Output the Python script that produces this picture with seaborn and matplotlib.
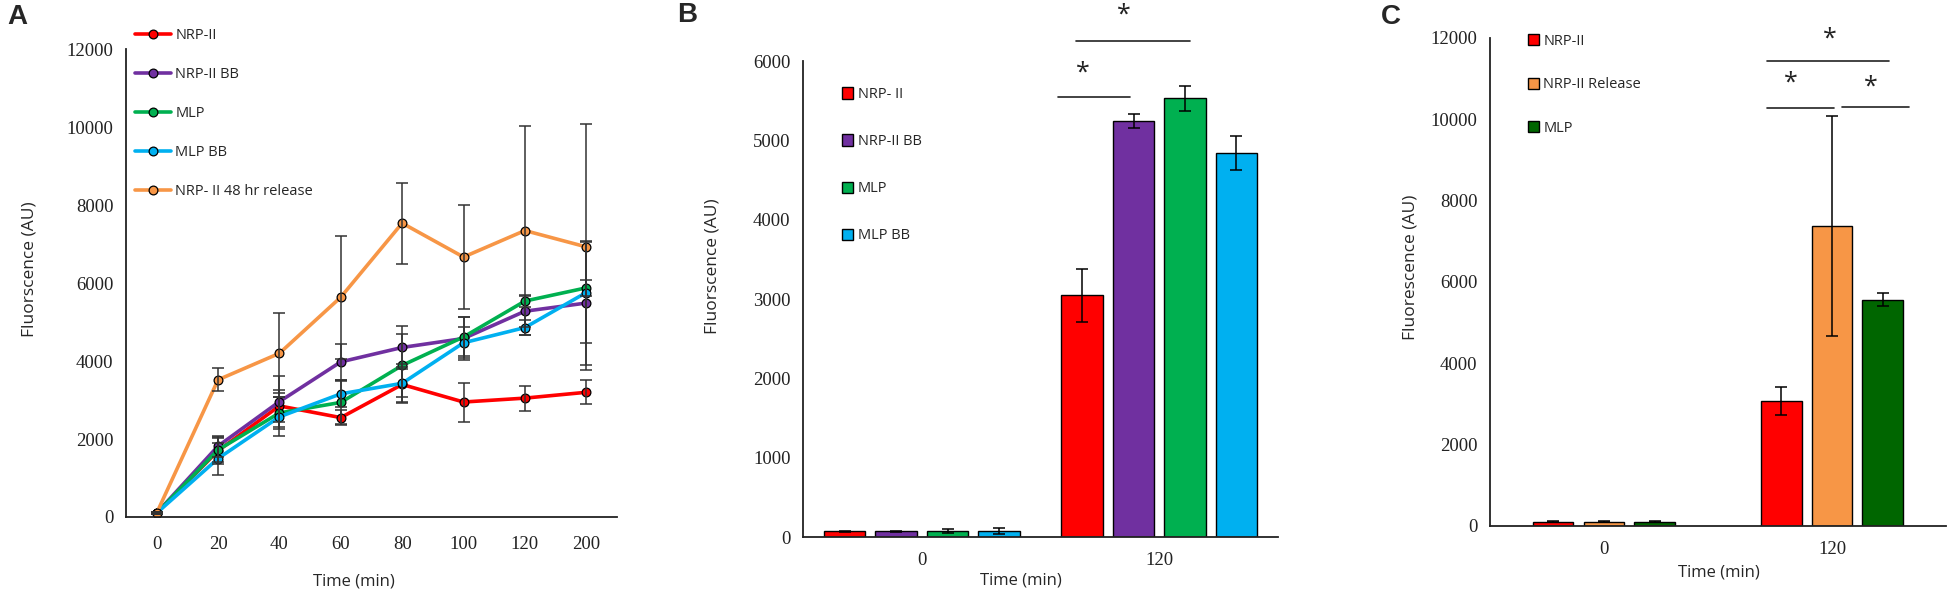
import numpy as np
import pandas as pd
import seaborn as sns
import matplotlib.pyplot as plt

sns.set_theme(style="white")
plt.rcParams['font.family'] = ['Open Sans', 'DejaVu Sans']

# panel A data
times_a = [0, 20, 40, 60, 80, 100, 120, 200]
groups_a = ["NRP-II", "NRP-II BB", "MLP", "MLP BB", "NRP- II 48 hr release"]
colors_a = ["#FF0000", "#7030A0", "#00B050", "#00B0F0", "#F79646"]
nrp = [100, 1700, 2850, 2550, 3400, 2950, 3050, 3200]
nrp_err = [30, 350, 400, 200, 450, 500, 320, 310]
nrp_bb = [100, 1820, 2960, 3980, 4350, 4580, 5280, 5490]
nrp_bb_err = [30, 270, 650, 470, 550, 550, 400, 1600]
mlp = [100, 1720, 2670, 2940, 3890, 4620, 5540, 5880]
mlp_err = [30, 300, 400, 550, 800, 500, 150, 200]
mlp_bb = [100, 1500, 2570, 3160, 3430, 4470, 4860, 5760]
mlp_bb_err = [30, 410, 500, 350, 500, 400, 200, 1300]
release = [100, 3520, 4200, 5640, 7540, 6670, 7350, 6930]
release_err = [30, 300, 1030, 1580, 1040, 1330, 2680, 3150]

# panel B data
times_b = [0, 120]
groups_b = ["NRP- II", "NRP-II BB", "MLP", "MLP BB"]
colors_b = ["#FF0000", "#7030A0", "#00B050", "#00B0F0"]
vals_b = [[70, 3045], [70, 5245], [75, 5530], [75, 4840]]
errs_b = [[10, 330], [10, 90], [20, 160], [40, 210]]

# panel C data
times_c = [0, 120]
groups_c = ["NRP-II", "NRP-II Release", "MLP"]
colors_c = ["#FF0000", "#F79646", "#006600"]
vals_c = [[110, 3080], [110, 7380], [110, 5560]]
errs_c = [[15, 340], [15, 2700], [15, 160]]

series_a = [nrp, nrp_bb, mlp, mlp_bb, release]
errors_a = [nrp_err, nrp_bb_err, mlp_err, mlp_bb_err, release_err]

fig = plt.figure(figsize=(19.5, 5.92), dpi=100)
axA = fig.add_axes([0.0646, 0.1267, 0.2518, 0.790])
axB = fig.add_axes([0.4118, 0.0929, 0.2436, 0.804])
axC = fig.add_axes([0.764, 0.1115, 0.234, 0.8245])

tick_family = ['Liberation Serif', 'DejaVu Serif']


def style_axis(ax):
    for s in ["top", "right"]:
        ax.spines[s].set_visible(False)
    for s in ["left", "bottom"]:
        ax.spines[s].set_color("#222222")
        ax.spines[s].set_linewidth(1.3)
    ax.tick_params(axis="y", length=0, pad=9, labelcolor="#222222")
    ax.tick_params(axis="x", length=0, pad=11, labelcolor="#222222")
    for lab in ax.get_xticklabels() + ax.get_yticklabels():
        lab.set_fontfamily(tick_family)
        lab.set_fontsize(13.5)


# ---- A ----
rows = []
for g, vals in zip(groups_a, series_a):
    for t, v in zip(times_a, vals):
        rows.append({"time": t, "value": v, "group": g})
dfA = pd.DataFrame(rows)

sns.pointplot(data=dfA, x="time", y="value", hue="group", hue_order=groups_a,
              palette=colors_a, markers="o", linestyles="-", errorbar=None,
              ax=axA, linewidth=2.6, markersize=6.3, markeredgecolor="black",
              markeredgewidth=0.9)
lines = [l for l in axA.lines if len(l.get_xdata()) == len(times_a)]
for line, vals, err in zip(lines, series_a, errors_a):
    axA.errorbar(line.get_xdata(), vals, yerr=err, fmt="none", ecolor="#333333",
                 elinewidth=1.1, capsize=4, capthick=1.1, zorder=5)
axA.set_xlim(-0.5, len(times_a) - 0.5)
axA.set_ylim(0, 12000)
axA.set_yticks(range(0, 12001, 2000))
axA.set_xlabel("Time (min)", fontsize=12)
axA.set_ylabel("Fluorscence (AU)", fontsize=12.5)
axA.xaxis.set_label_coords(0.464, -0.12)
axA.yaxis.set_label_coords(-0.18, 0.53)
style_axis(axA)
axA.tick_params(axis="x", length=5, direction="inout", width=1, color="#222222")
h, l = axA.get_legend_handles_labels()
axA.legend(h, l, loc="upper left", bbox_to_anchor=(0.069, 0.953),
           bbox_transform=fig.transFigure, frameon=False, fontsize=10.5,
           handlelength=2.5, handletextpad=0.3, labelspacing=1.65,
           borderpad=0, borderaxespad=0)

# ---- bar panels ----


def bar_panel(ax, times, groups, colors, vals, errs, width, ymax, ystep):
    rows = []
    for g, vv in zip(groups, vals):
        for t, v in zip(times, vv):
            rows.append({"time": t, "value": v, "group": g})
    df = pd.DataFrame(rows)
    sns.barplot(data=df, x="time", y="value", hue="group", hue_order=groups,
                palette=colors, width=width, gap=0.2, edgecolor="black",
                linewidth=1, errorbar=None, saturation=1, ax=ax)
    for cont, ee in zip(ax.containers, errs):
        xs = [p.get_x() + p.get_width() / 2 for p in cont.patches]
        hs = [p.get_height() for p in cont.patches]
        ax.errorbar(xs, hs, yerr=ee, fmt="none", ecolor="black",
                    elinewidth=1.1, capsize=4, capthick=1.1, zorder=5)
    ax.set_xlim(-0.5, 1.5)
    ax.set_ylim(0, ymax)
    ax.set_yticks(range(0, ymax + 1, ystep))


star_kw = dict(ha="center", va="baseline", fontsize=18, clip_on=False, color="#222222")
kw = dict(color="#222222", lw=1.2, clip_on=False)

bar_panel(axB, times_b, groups_b, colors_b, vals_b, errs_b, 0.867, 6000, 1000)
axB.set_xlabel("Time (min)", fontsize=12)
axB.set_ylabel("Fluorscence (AU)", fontsize=12.5)
axB.xaxis.set_label_coords(0.459, -0.074)
axB.yaxis.set_label_coords(-0.173, 0.57)
style_axis(axB)
h, l = axB.get_legend_handles_labels()
axB.legend(h, l, loc="upper left", bbox_to_anchor=(0.432, 0.853),
           bbox_transform=fig.transFigure, frameon=False, fontsize=10.5,
           handlelength=0.75, handleheight=0.8, handletextpad=0.3,
           labelspacing=2.2, borderpad=0, borderaxespad=0)
axB.plot([0.573, 0.876], [5545, 5545], **kw)
axB.plot([0.648, 1.128], [6250, 6250], **kw)
axB.text(0.678, 5760, "*", **star_kw)
axB.text(0.85, 6500, "*", **star_kw)

bar_panel(axC, times_c, groups_c, colors_c, vals_c, errs_c, 0.667, 12000, 2000)
axC.set_xlabel("Time (min)", fontsize=12)
axC.set_ylabel("Fluorescence (AU)", fontsize=12.5)
axC.xaxis.set_label_coords(0.502, -0.078)
axC.yaxis.set_label_coords(-0.156, 0.53)
style_axis(axC)
h, l = axC.get_legend_handles_labels()
axC.legend(h, l, loc="upper left", bbox_to_anchor=(0.7836, 0.9426),
           bbox_transform=fig.transFigure, frameon=False, fontsize=10.5,
           handlelength=0.75, handleheight=0.8, handletextpad=0.3,
           labelspacing=1.95, borderpad=0, borderaxespad=0)
axC.plot([0.717, 1.249], [11440, 11440], **kw)
axC.plot([0.717, 1.007], [10270, 10270], **kw)
axC.plot([1.044, 1.337], [10300, 10300], **kw)
axC.text(0.991, 11800, "*", **star_kw)
axC.text(0.818, 10730, "*", **star_kw)
axC.text(1.170, 10640, "*", **star_kw)

# panel letters
for x, y, s in [(0.004, 0.972, "A"), (0.347, 0.975, "B"), (0.708, 0.972, "C")]:
    fig.text(x, y, s, fontsize=20, fontweight="bold", va="center", ha="left",
             family=["Liberation Sans", "DejaVu Sans"])

fig.savefig("out.png", dpi=100)
